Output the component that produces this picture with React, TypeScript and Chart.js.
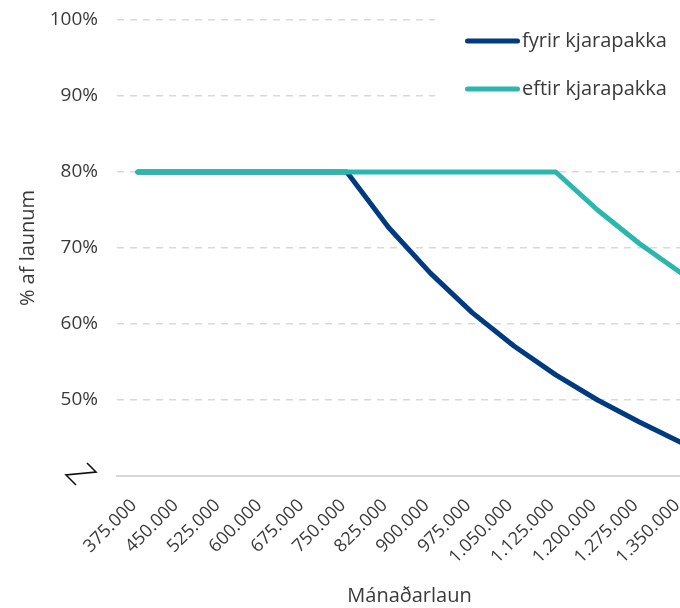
import React, { useEffect, useRef } from 'react';
import { Chart, registerables } from 'chart.js';

Chart.register(...registerables);

const categories = [
  '375.000', '450.000', '525.000', '600.000', '675.000', '750.000', '825.000',
  '900.000', '975.000', '1.050.000', '1.125.000', '1.200.000', '1.275.000', '1.350.000',
];
const fyrirKjarapakka = [80, 80, 80, 80, 80, 80, 72.7, 66.7, 61.5, 57.1, 53.3, 50.0, 47.1, 44.4];
const eftirKjarapakka = [80, 80, 80, 80, 80, 80, 80, 80, 80, 80, 80, 75.0, 70.6, 66.7];
const seriesNames = ['fyrir kjarapakka', 'eftir kjarapakka'];
const seriesColors = ['#003a80', '#2bb7ae'];
const yMin = 40;
const yMax = 100;
const yStep = 10;
const xTitle = 'Mánaðarlaun';
const yTitle = '% af launum';

const FONT = "'Open Sans', 'Noto Sans', sans-serif";
const TEXT = '#3a3a3a';
const GRID = '#d9d9d9';

const overlayPlugin = {
  id: 'overlay',
  afterDraw(chart: any) {
    const ctx = chart.ctx;
    ctx.save();
    // legend box
    ctx.fillStyle = '#ffffff';
    ctx.fillRect(435, 0, chart.width - 435, 112);
    const rows = [41, 89];
    seriesNames.forEach((name, i) => {
      ctx.beginPath();
      ctx.lineCap = 'round';
      ctx.lineWidth = 5;
      ctx.strokeStyle = seriesColors[i];
      ctx.moveTo(467.5, rows[i]);
      ctx.lineTo(517.5, rows[i]);
      ctx.stroke();
      ctx.fillStyle = TEXT;
      ctx.font = `20px ${FONT}`;
      ctx.textBaseline = 'middle';
      ctx.textAlign = 'left';
      ctx.fillText(name, 522, rows[i]);
    });
    // axis break symbol
    ctx.beginPath();
    ctx.lineCap = 'butt';
    ctx.lineJoin = 'miter';
    ctx.lineWidth = 1.6;
    ctx.strokeStyle = '#111';
    ctx.moveTo(87, 463);
    ctx.lineTo(96, 472);
    ctx.lineTo(66, 475);
    ctx.lineTo(76, 485);
    ctx.stroke();
    ctx.restore();
  },
};

export default function App() {
  const ref = useRef<HTMLCanvasElement | null>(null);
  useEffect(() => {
    if (!ref.current) return;
    const chart = new Chart(ref.current, {
      type: 'line',
      data: {
        labels: categories,
        datasets: [
          {
            label: seriesNames[0],
            data: fyrirKjarapakka,
            borderColor: seriesColors[0],
            backgroundColor: seriesColors[0],
            borderWidth: 5,
            pointRadius: 0,
            tension: 0,
            borderCapStyle: 'round',
            borderJoinStyle: 'round',
            order: 2,
          },
          {
            label: seriesNames[1],
            data: eftirKjarapakka,
            borderColor: seriesColors[1],
            backgroundColor: seriesColors[1],
            borderWidth: 5,
            pointRadius: 0,
            tension: 0,
            borderCapStyle: 'round',
            borderJoinStyle: 'round',
            order: 1,
          },
        ],
      },
      options: {
        responsive: false,
        animation: false,
        layout: { padding: { top: 20, right: 0, left: 0, bottom: 0 } },
        plugins: {
          legend: { display: false },
          tooltip: { enabled: false },
        },
        scales: {
          x: {
            offset: true,
            grid: { display: false, drawTicks: false },
            border: { display: true, color: GRID, width: 2 },
            ticks: {
              autoSkip: false,
              minRotation: 45,
              maxRotation: 45,
              padding: 19,
              labelOffset: -4,
              color: TEXT,
              font: { family: FONT, size: 18 },
            },
            title: {
              display: true,
              text: xTitle,
              color: TEXT,
              font: { family: FONT, size: 20 },
              padding: { top: 4, bottom: 0 },
            },
            afterFit: (s: any) => {
              s.height = 132;
              s.paddingLeft = 0;
              s.paddingRight = 0;
            },
          },
          y: {
            min: yMin,
            max: yMax,
            grid: { color: GRID, lineWidth: 1.5, drawTicks: false },
            border: { display: false, dash: [7, 6] },
            ticks: {
              stepSize: yStep,
              padding: 19,
              color: TEXT,
              font: { family: FONT, size: 19 },
              callback: (v: any) => (Number(v) === yMin ? '' : `${v}%`),
            },
            title: {
              display: true,
              text: yTitle,
              color: TEXT,
              font: { family: FONT, size: 20 },
              padding: { top: 16, bottom: 0 },
            },
            afterFit: (s: any) => {
              s.width = 117;
              s.paddingTop = 0;
              s.paddingBottom = 0;
            },
          },
        },
      },
      plugins: [overlayPlugin],
    } as any);
    return () => chart.destroy();
  }, []);
  return (
    <div
      style={{
        position: 'fixed',
        left: 0,
        top: 0,
        width: 680,
        height: 608,
        overflow: 'hidden',
        background: '#fff',
      }}
    >
      <canvas ref={ref} width={702} height={608} style={{ display: 'block' }} />
    </div>
  );
}
